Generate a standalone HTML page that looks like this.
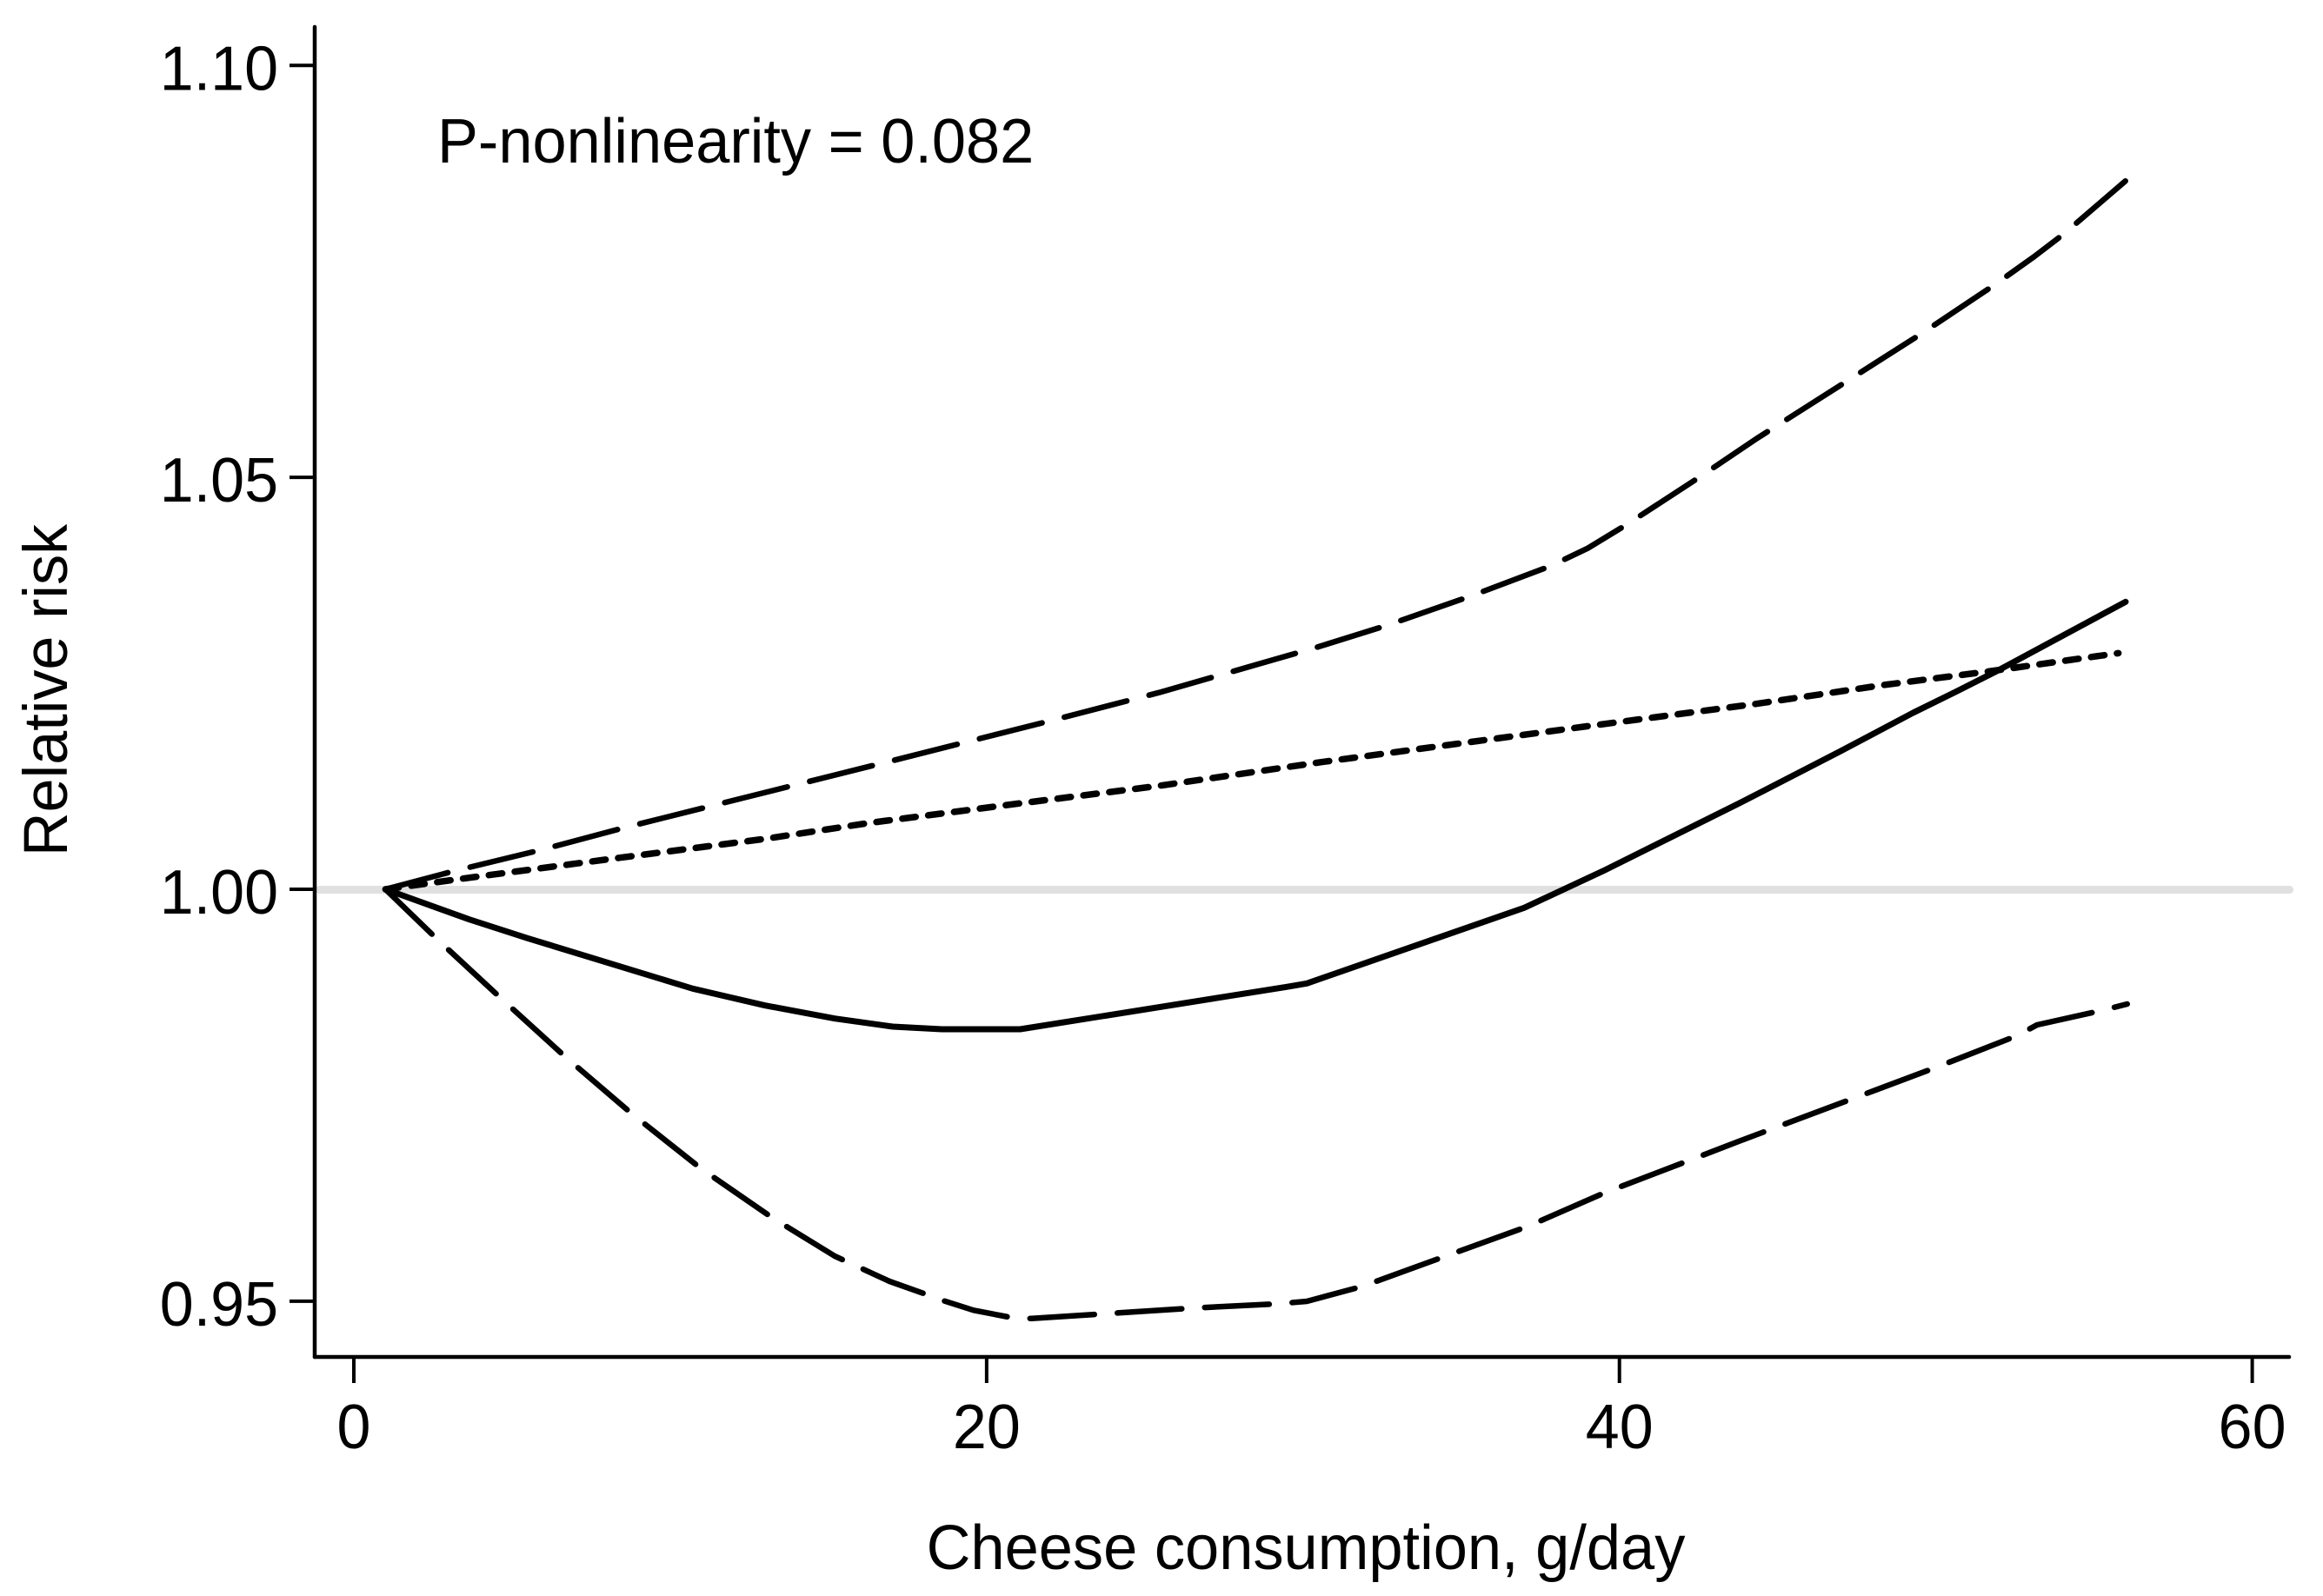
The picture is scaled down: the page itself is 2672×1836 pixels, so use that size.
<!DOCTYPE html>
<html lang="en">
<head>
<meta charset="utf-8">
<title>Cheese consumption and relative risk</title>
<style>
html,body{margin:0;padding:0;background:#fff;}
svg{display:block;}
text{font-family:"Liberation Sans",Arial,sans-serif;font-size:70px;fill:#000;}
</style>
</head>
<body>
<svg id="chart" xmlns="http://www.w3.org/2000/svg" width="2672" height="1836" viewBox="0 0 2672 1836">
  <rect x="0" y="0" width="2672" height="1836" fill="#fff"/>
  <line id="ref" stroke="#e0e0e0" stroke-width="9" stroke-linecap="round"/>
  <g id="series"></g>
  <line x1="362" y1="31" x2="362" y2="1561" stroke="#000" stroke-width="4.5" stroke-linecap="round"/>
  <line x1="362" y1="1561" x2="2633" y2="1561" stroke="#000" stroke-width="4.5" stroke-linecap="round"/>
  <g id="ticks"></g>
  <text transform="translate(503 187) scale(1.005 1.04)">P-nonlinearity = 0.082</text>
  <text transform="translate(1502 1805) scale(1.006 1.04)" text-anchor="middle">Cheese consumption, g/day</text>
  <text transform="translate(77 794) rotate(-90) scale(1.003 1.02)" text-anchor="middle">Relative risk</text>
</svg>
<script>
const xTicks = [0, 20, 40, 60];
const yTicks = [0.95, 1.00, 1.05, 1.10];
const yTickLabels = ["0.95", "1.00", "1.05", "1.10"];
const referenceValue = 1.0;

const solidX = [1, 3.65, 5.49, 10.71, 13.0, 15.2, 17.03, 18.58, 21.06, 29.48, 30.12, 36.99, 39.47, 43.77, 46.98, 49.27, 50.64, 52.0, 56];
const solidY = [1, 0.99634, 0.99406, 0.98794, 0.98589, 0.98431, 0.98333, 0.98301, 0.98301, 0.98815, 0.98857, 0.99775, 1.0022, 1.0104, 1.01675, 1.0214, 1.024, 1.02663, 1.0349];

const upperX = [1, 3.2, 5.85, 8.6, 16.29, 17.03, 22.0, 25.45, 30.4, 32.6, 35.25, 37.82, 39.0, 40.25, 42.54, 44.32, 49.54, 51.83, 53.11, 54.03, 56];
const upperY = [1, 1.00225, 1.00472, 1.00752, 1.01491, 1.01562, 1.02044, 1.02388, 1.02933, 1.03197, 1.03552, 1.03923, 1.0414, 1.04432, 1.05006, 1.05467, 1.06743, 1.0733, 1.0768, 1.0795, 1.086];

const lowerX = [1, 2.6, 4.62, 6.66, 8.78, 10.96, 13.23, 15.2, 16.93, 18.17, 18.67, 19.59, 20.78, 21.42, 26.41, 29.16, 30.12, 31.86, 34.51, 37.09, 39.56, 42.2, 43.77, 50, 52.56, 53.2, 55.2, 56.05];
const lowerY = [1, 0.99406, 0.98688, 0.97974, 0.97278, 0.96613, 0.96011, 0.95547, 0.95241, 0.95072, 0.95002, 0.9489, 0.94801, 0.9479, 0.94914, 0.94967, 0.94998, 0.95178, 0.95547, 0.95906, 0.96321, 0.96708, 0.9694, 0.97837, 0.98222, 0.98354, 0.98525, 0.98607];

const linearX = [1, 3.38, 8.41, 13, 16.29, 20.87, 25.45, 30.58, 39.2, 44.3, 48.35, 51.65, 55.77];
const linearY = [1, 1.00127, 1.00383, 1.00612, 1.00805, 1.01034, 1.01256, 1.01544, 1.0199, 1.0225, 1.0248, 1.02643, 1.02866];

const NS = 'http://www.w3.org/2000/svg';
function xScale(v) { return 407 + (v - 0) * (2590.6 - 407) / 60; }
function yScale(v) { return 1023 - (v - 1) * (1023 - 75.3) / 0.1; }

const ref = document.getElementById('ref');
ref.setAttribute('x1', 367);
ref.setAttribute('x2', 2633.5);
ref.setAttribute('y1', yScale(referenceValue) + 0.5);
ref.setAttribute('y2', yScale(referenceValue) + 0.5);

function pathFrom(xs, ys) {
  return xs.map(function (x, i) {
    return (i ? 'L' : 'M') + xScale(x).toFixed(1) + ' ' + yScale(ys[i]).toFixed(1);
  }).join(' ');
}

const seriesGroup = document.getElementById('series');
function addPath(xs, ys, dash, width) {
  const p = document.createElementNS(NS, 'path');
  p.setAttribute('d', pathFrom(xs, ys));
  p.setAttribute('fill', 'none');
  p.setAttribute('stroke', '#000');
  p.setAttribute('stroke-width', width);
  p.setAttribute('stroke-linecap', 'round');
  p.setAttribute('stroke-linejoin', 'round');
  if (dash) p.setAttribute('stroke-dasharray', dash);
  seriesGroup.appendChild(p);
  return p;
}

const lineLinear = addPath(linearX, linearY, '15.5 14.5', 7.5);



const lineUpper = addPath(upperX, upperY, '74.2 26.5', 6.5);



const lineLower = addPath(lowerX, lowerY, '74.2 26.5', 6.5);



const lineSolid = addPath(solidX, solidY, null, 7);



const tickGroup = document.getElementById('ticks');
xTicks.forEach(function (v) {
  const t = document.createElementNS(NS, 'line');
  
  
  t.setAttribute('x1', xScale(v));
  t.setAttribute('x2', xScale(v));
  t.setAttribute('y1', 1561);
  t.setAttribute('y2', 1591);
  t.setAttribute('stroke', '#000');
  t.setAttribute('stroke-width', 4);
  tickGroup.appendChild(t);
  const l = document.createElementNS(NS, 'text');
  
  
  l.setAttribute('transform', 'translate(' + xScale(v) + ' 1666) scale(1 1.04)');
  l.setAttribute('text-anchor', 'middle');
  l.textContent = String(v);
  tickGroup.appendChild(l);
});
yTicks.forEach(function (v, i) {
  const t = document.createElementNS(NS, 'line');
  
  
  t.setAttribute('x1', 333);
  t.setAttribute('x2', 362);
  t.setAttribute('y1', yScale(v));
  t.setAttribute('y2', yScale(v));
  t.setAttribute('stroke', '#000');
  t.setAttribute('stroke-width', 4);
  tickGroup.appendChild(t);
  const l = document.createElementNS(NS, 'text');
  
  
  l.setAttribute('transform', 'translate(320 ' + (yScale(v) + 28) + ') scale(1 1.04)');
  l.setAttribute('text-anchor', 'end');
  l.textContent = yTickLabels[i];
  tickGroup.appendChild(l);
});
</script>
</body>
</html>
